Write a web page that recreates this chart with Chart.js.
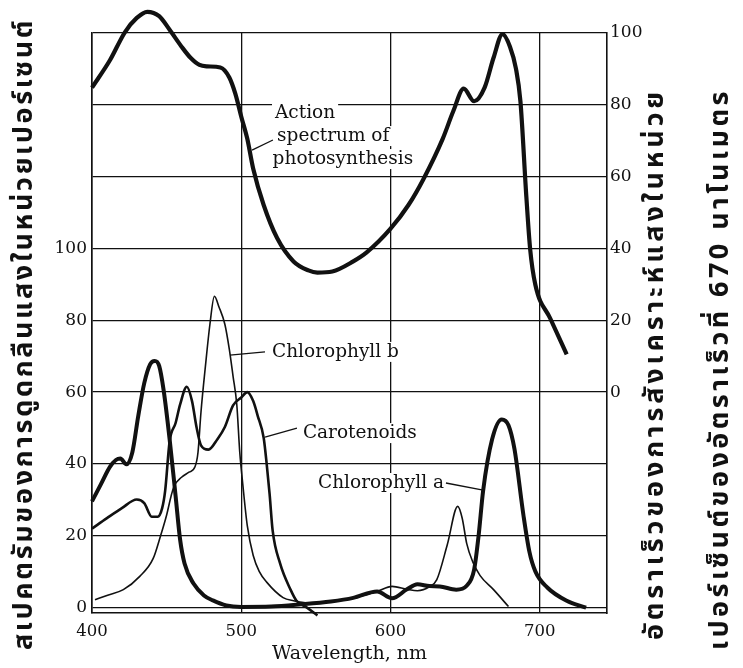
<!DOCTYPE html>
<html>
<head>
<meta charset="utf-8">
<script src="https://cdn.jsdelivr.net/npm/chart.js@4.4.1/dist/chart.umd.min.js"></script>
<style>
html,body{margin:0;padding:0;background:#fff;}
#wrap{width:743px;height:668px;position:relative;}
</style>
</head>
<body>
<div id="wrap"><canvas id="c" width="743" height="668"></canvas></div>
<script>
// ---- data ----
const wavelengthTicks = [400, 500, 600, 700];
const absorptionTicks = [0, 20, 40, 60, 80, 100, 120, 140, 160];
const rateTicks = [0, 20, 40, 60, 80, 100];

const actionWl  = [400, 412, 422, 430, 437, 445, 452, 460, 466, 472, 477, 486, 492, 496, 500, 504, 508, 515, 524, 535, 545, 551, 561, 575, 584, 600, 612, 622, 635, 642, 649, 656, 663, 669, 675, 680, 684, 687, 691, 693.5, 697, 707, 718];
const actionVal = [84.8, 92.4, 100.2, 104.2, 105.9, 104.7, 100.9, 96.2, 93.1, 91.1, 90.7, 90.4, 87.6, 83.1, 76.7, 70.6, 62.2, 52.1, 42.9, 36.4, 33.9, 33.3, 33.6, 36.4, 38.9, 45.5, 52.1, 59.3, 70.6, 78.2, 84.5, 81, 84.8, 93.1, 99.7, 96.2, 90.1, 81, 54.2, 39.9, 29.9, 20.5, 10.5];

const chlAWl  = [400, 406, 412, 416, 419, 423, 427, 431, 435, 439, 442, 445, 448, 452, 456, 459, 462, 468, 475, 481, 490, 500, 520, 540, 560, 575, 591, 601, 611, 618, 626, 633, 644, 651, 656, 659, 662, 668, 674.5, 679, 683, 689, 693, 697, 705, 718, 731];
const chlAVal = [29.6, 34.4, 39.2, 41.1, 41.5, 39.9, 43.2, 53.4, 62.5, 67.8, 68.7, 67.3, 60.5, 46.9, 31.1, 19.0, 12.3, 6.7, 3.4, 2.0, 0.6, 0.2, 0.3, 0.9, 1.7, 2.7, 4.5, 2.6, 5.1, 6.5, 6.0, 5.9, 5.0, 6.1, 10.6, 20.1, 32.5, 46.8, 52.4, 50.8, 44.2, 25.8, 15.6, 10.1, 5.6, 1.9, 0];

const chlBWl  = [402, 410, 421, 432, 441, 446, 450, 453, 455, 460, 465, 469, 471, 473, 476, 479, 482, 485, 489, 492, 494.5, 497, 499, 501, 504, 508, 512, 517, 528, 535, 545, 560, 575, 591, 601, 611, 618, 626, 631, 638, 645, 648, 651, 655, 660, 669, 679];
const chlBVal = [2.2, 3.4, 5.0, 8.7, 13.7, 20.1, 25.8, 31.1, 33.8, 36.3, 37.7, 39.2, 43.2, 54.4, 67.3, 78.9, 86.7, 83.8, 78.9, 71.9, 64.4, 56.5, 43.2, 34.4, 22.9, 14.5, 10.1, 7.1, 2.8, 1.9, 1.3, 1.8, 2.7, 4.5, 5.9, 5.1, 4.7, 5.8, 7.8, 17.5, 28.2, 24.9, 17.9, 12.8, 8.9, 5.0, 0.3];

const carWl  = [400, 410, 420, 430, 435, 440, 444, 447, 449, 452, 456, 459, 463.5, 467, 470, 473, 478, 484, 489, 494.5, 500, 504, 508, 511, 515, 517, 519, 521, 526, 533, 537, 544, 551];
const carVal = [22.0, 24.9, 27.7, 30.1, 29.1, 25.3, 25.3, 27.7, 32.5, 46.3, 51.4, 56.5, 61.5, 57.5, 50.3, 45.2, 44.0, 46.9, 50.3, 56.3, 58.5, 60.0, 57.5, 53.4, 47.3, 40.1, 31.5, 21.5, 12.3, 5.0, 1.9, 0, -2.2];

const seriesNames = ['Action spectrum of photosynthesis', 'Chlorophyll a', 'Chlorophyll b', 'Carotenoids'];
const xTitle = 'Wavelength, nm';
const leftTitle = 'สเปคตรัมของการดูดกลืนแสงในหน่วยเปอร์เซนต์';
const rightTitle1 = 'อัตราเร็วของการสังเคราะห์แสงในหน่วย';
const rightTitle2 = 'เปอร์เซ็นต์ของอัตราเร็วที่ 670 นาโนเมตร';

// annotation labels: text, axis, anchor (wavelength, value)
const labelTexts = ['Action', 'spectrum of', 'photosynthesis', 'Chlorophyll b', 'Carotenoids', 'Chlorophyll a'];
const labelAxes  = ['y2', 'y2', 'y2', 'y', 'y', 'y'];
const labelWl    = [522.6, 524, 521, 520.6, 541.3, 551.4];
const labelVal   = [77.7, 71.3, 64.9, 71.2, 48.6, 34.7];
// leader lines: axis, from (wl,val) to (wl,val)
const leaderAxes = ['y2', 'y', 'y', 'y'];
const leaderWl1  = [507.2, 492.4, 515.9, 637.1];
const leaderV1   = [67.4, 70.3, 47.5, 34.7];
const leaderWl2  = [521.2, 515.9, 537.3, 662];
const leaderV2   = [70.2, 71.2, 50.0, 32.7];

const pts = (xs, ys) => xs.map((x, i) => ({x: x, y: ys[i]}));
const SERIF = '"DejaVu Serif", "Liberation Serif", serif';
const THAI = '"Noto Sans Thai", "Noto Serif Thai", "Loma", "Garuda", "Tlwg Typo", "Norasi", "Noto Sans", sans-serif';
const INK = '#111';

const overlay = {
  id: 'overlay',
  beforeDatasetsDraw(chart) {
    const ctx = chart.ctx, xs = chart.scales.x;
    ctx.save();
    ctx.font = '18.5px ' + SERIF;
    ctx.textBaseline = 'middle';
    ctx.textAlign = 'left';
    labelTexts.forEach((t, i) => {
      const px = xs.getPixelForValue(labelWl[i]);
      const py = chart.scales[labelAxes[i]].getPixelForValue(labelVal[i]);
      const w = ctx.measureText(t).width;
      ctx.fillStyle = '#fff';
      ctx.fillRect(px - 3, py - 10, w + 6, 20);
      ctx.fillStyle = INK;
      ctx.fillText(t, px, py);
    });
    ctx.strokeStyle = INK;
    ctx.lineWidth = 1.3;
    leaderAxes.forEach((a, i) => {
      const ys = chart.scales[a];
      ctx.beginPath();
      ctx.moveTo(xs.getPixelForValue(leaderWl1[i]), ys.getPixelForValue(leaderV1[i]));
      ctx.lineTo(xs.getPixelForValue(leaderWl2[i]), ys.getPixelForValue(leaderV2[i]));
      ctx.stroke();
    });
    ctx.restore();
  },
  afterDraw(chart) {
    const ctx = chart.ctx, ca = chart.chartArea;
    const cy = (ca.top + ca.bottom) / 2;
    const drawRot = (text, x, y, size, target) => {
      ctx.save();
      ctx.translate(x, y);
      ctx.rotate(-Math.PI / 2);
      ctx.font = 'bold ' + size + 'px ' + THAI;
      ctx.fillStyle = INK;
      ctx.textAlign = 'center';
      ctx.textBaseline = 'middle';
      if ('letterSpacing' in ctx) {
        ctx.letterSpacing = '0px';
        const w0 = ctx.measureText(text).width;
        ctx.letterSpacing = '1px';
        const w1 = ctx.measureText(text).width;
        const s = w1 > w0 ? Math.max(0, (target - w0) / (w1 - w0)) : 0;
        ctx.letterSpacing = s.toFixed(2) + 'px';
      }
      ctx.fillText(text, 0, 0);
      ctx.restore();
    };
    drawRot(leftTitle, ca.left - 65, cy + 11, 27, 632);
    drawRot(rightTitle1, ca.right + 51, cy + 41, 27, 552);
    drawRot(rightTitle2, ca.right + 116, cy + 46, 27, 562);
  }
};

new Chart(document.getElementById('c'), {
  type: 'line',
  data: {
    datasets: [
      {label: seriesNames[0], data: pts(actionWl, actionVal), yAxisID: 'y2', borderColor: INK, borderWidth: 4.2, pointRadius: 0, cubicInterpolationMode: 'monotone', clip: false, fill: false},
      {label: seriesNames[1], data: pts(chlAWl, chlAVal), yAxisID: 'y', borderColor: INK, borderWidth: 4, pointRadius: 0, cubicInterpolationMode: 'monotone', clip: false, fill: false},
      {label: seriesNames[2], data: pts(chlBWl, chlBVal), yAxisID: 'y', borderColor: INK, borderWidth: 1.6, pointRadius: 0, cubicInterpolationMode: 'monotone', clip: false, fill: false},
      {label: seriesNames[3], data: pts(carWl, carVal), yAxisID: 'y', borderColor: INK, borderWidth: 2.6, pointRadius: 0, cubicInterpolationMode: 'monotone', clip: false, fill: false}
    ]
  },
  options: {
    responsive: false,
    animation: false,
    events: [],
    layout: {padding: {top: 33, left: 0, right: 0, bottom: 0}},
    plugins: {legend: {display: false}, tooltip: {enabled: false}},
    scales: {
      x: {
        type: 'linear', min: 400, max: 745,
        afterBuildTicks: s => { s.ticks = wavelengthTicks.map(v => ({value: v})); },
        afterFit: s => { s.height = 55; },
        grid: {color: INK, lineWidth: 1.3, drawTicks: false},
        border: {color: INK, width: 1.6},
        ticks: {color: INK, font: {family: SERIF, size: 16.5}, padding: 9, maxRotation: 0},
        title: {display: true, text: xTitle, color: INK, font: {family: SERIF, size: 19}, padding: {top: 0, bottom: 3}}
      },
      y: {
        position: 'left', min: -1.5, max: 160,
        afterBuildTicks: s => { s.ticks = absorptionTicks.map(v => ({value: v})); },
        afterFit: s => { s.width = 92; },
        grid: {color: INK, lineWidth: 1.3, drawTicks: false},
        border: {color: INK, width: 1.6},
        ticks: {color: INK, font: {family: SERIF, size: 17}, padding: 5,
                callback: v => (v <= 100 ? String(v) : '')}
      },
      y2: {
        position: 'right', min: -61.5, max: 100,
        afterBuildTicks: s => { s.ticks = rateTicks.map(v => ({value: v})); },
        afterFit: s => { s.width = 136; },
        grid: {display: false, drawTicks: false},
        border: {color: INK, width: 1.6},
        ticks: {color: INK, font: {family: SERIF, size: 17}, padding: 3}
      }
    }
  },
  plugins: [overlay]
});
</script>
</body>
</html>
